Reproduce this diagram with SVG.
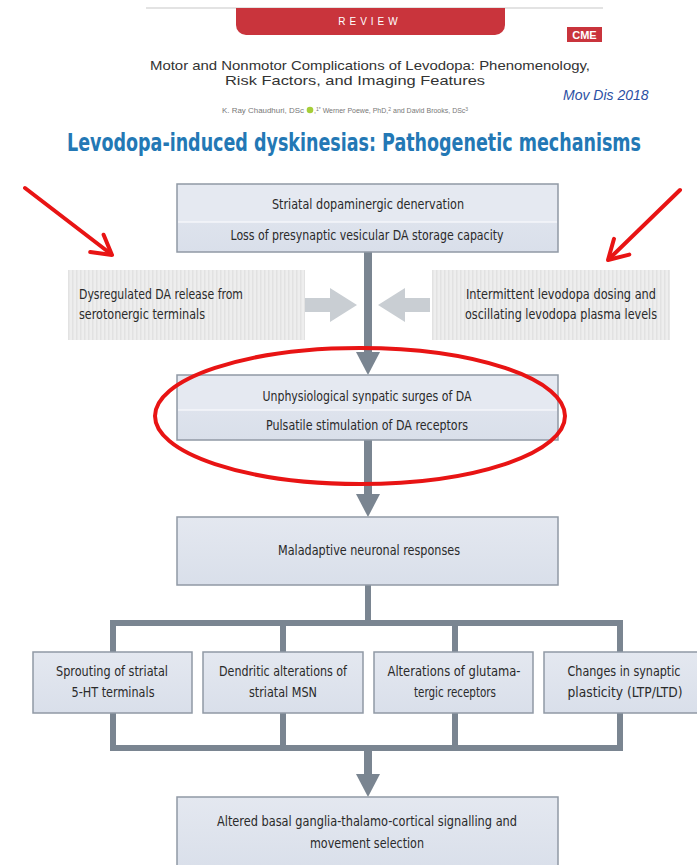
<svg xmlns="http://www.w3.org/2000/svg" width="697" height="865" viewBox="0 0 697 865">
<defs>
<style>
.bx{fill:url(#bg);stroke:#9099a5;stroke-width:1.5}
.t{font-family:"DejaVu Sans Condensed","Liberation Sans Narrow","Liberation Sans",sans-serif;font-size:14px;fill:#2a2a2a}
.c{text-anchor:middle}
.ln{fill:none;stroke:#7a8591;stroke-width:6}
.ar{fill:#7a8591}
.lt{fill:#c9ced3}
.red{fill:none;stroke:#e81414;stroke-width:4;stroke-linecap:round;stroke-linejoin:round}
.au{font-family:"Liberation Sans",sans-serif;font-size:7px;fill:#777777}
</style>
<linearGradient id="bg" x1="0" y1="0" x2="0" y2="1">
<stop offset="0" stop-color="#e4e8f0"/>
<stop offset="1" stop-color="#d9dfea"/>
</linearGradient>
<pattern id="stripe" width="4" height="4" patternUnits="userSpaceOnUse">
<rect width="4" height="4" fill="#eeeeee"/>
<rect width="1.5" height="4" fill="#e2e2e2"/>
</pattern>
</defs>
<rect width="697" height="865" fill="#ffffff"/>

<g id="header">
<line x1="146" y1="8" x2="603" y2="8" stroke="#c8c8c8" stroke-width="1.2"/>
<path d="M236,8 H505 V25 a10,10 0 0 1 -10,10 H246 a10,10 0 0 1 -10,-10 Z" fill="#c9343c"/>
<text x="370" y="25" text-anchor="middle" font-family="Liberation Sans, sans-serif" font-size="10" fill="#ffffff" letter-spacing="4">REVIEW</text>
<rect x="567" y="27" width="35" height="15" fill="#c9343c"/>
<text x="584.5" y="39" text-anchor="middle" font-family="Liberation Sans, sans-serif" font-size="11" font-weight="bold" fill="#ffffff">CME</text>
<text x="370" y="70" text-anchor="middle" font-family="Liberation Sans, sans-serif" font-size="13" fill="#333333" textLength="440" lengthAdjust="spacingAndGlyphs">Motor and Nonmotor Complications of Levodopa: Phenomenology,</text>
<text x="355" y="85" text-anchor="middle" font-family="Liberation Sans, sans-serif" font-size="13" fill="#333333" textLength="260" lengthAdjust="spacingAndGlyphs">Risk Factors, and Imaging Features</text>
<text x="563" y="100" font-family="Liberation Sans, sans-serif" font-size="14" font-style="italic" fill="#2b4fa3">Mov Dis 2018</text>
<text x="222" y="113" class="au" textLength="82" lengthAdjust="spacingAndGlyphs">K. Ray Chaudhuri, DSc</text>
<circle cx="310" cy="110" r="3.3" fill="#a6ce39"/>
<text x="314" y="113" class="au">,<tspan font-size="5" dy="-2.5">1*</tspan><tspan dy="2.5"> Werner Poewe, PhD,</tspan><tspan font-size="5" dy="-2.5">2</tspan><tspan dy="2.5"> and David Brooks, DSc</tspan><tspan font-size="5" dy="-2.5">3</tspan></text>
</g>

<g id="title">
<text transform="translate(354,151) scale(1,1.25)" x="0" y="0" text-anchor="middle" font-family="DejaVu Sans Condensed, Liberation Sans Narrow, Liberation Sans, sans-serif" font-size="20" font-weight="bold" fill="#2378b5" textLength="574" lengthAdjust="spacingAndGlyphs">Levodopa-induced dyskinesias: Pathogenetic mechanisms</text>
</g>

<g id="connectors">
<rect x="364" y="252" width="8" height="102" class="ar"/>
<polygon points="356,352 380,352 368,375" class="ar"/>
<rect x="364" y="440" width="8" height="56" class="ar"/>
<polygon points="356,494 380,494 368,517" class="ar"/>
<line x1="368" y1="585" x2="368" y2="623" class="ln"/>
<path d="M113,653 V623 H620 V653" class="ln"/>
<line x1="283" y1="623" x2="283" y2="653" class="ln"/>
<line x1="455" y1="623" x2="455" y2="653" class="ln"/>
<path d="M113,713 V748 H620 V713" class="ln"/>
<line x1="283" y1="713" x2="283" y2="748" class="ln"/>
<line x1="455" y1="713" x2="455" y2="748" class="ln"/>
<rect x="364" y="748" width="8" height="28" class="ar"/>
<polygon points="356,774 380,774 368,797" class="ar"/>
<polygon points="305,298 330,298 330,288 357,305 330,322 330,312 305,312" class="lt"/>
<polygon points="430,298 405,298 405,288 378,305 405,322 405,312 430,312" class="lt"/>
</g>

<g id="box1">
<rect x="177" y="184" width="381" height="68" class="bx"/>
<rect x="178" y="185" width="379" height="37" fill="#e5e9f1"/>
<line x1="178" y1="222" x2="557" y2="222" stroke="#f4f6fa" stroke-width="1.5"/>
<text x="368" y="209" class="t c" textLength="192" lengthAdjust="spacingAndGlyphs">Striatal dopaminergic denervation</text>
<text x="367" y="240" class="t c" textLength="273" lengthAdjust="spacingAndGlyphs">Loss of presynaptic vesicular DA storage capacity</text>
</g>

<g id="left">
<rect x="68" y="270" width="237" height="70" fill="url(#stripe)"/>
<text x="79" y="299" class="t" textLength="164" lengthAdjust="spacingAndGlyphs">Dysregulated DA release from</text>
<text x="79" y="319" class="t" textLength="126" lengthAdjust="spacingAndGlyphs">serotonergic terminals</text>
</g>

<g id="right">
<rect x="432" y="270" width="238" height="70" fill="url(#stripe)"/>
<text x="466" y="299" class="t" textLength="190" lengthAdjust="spacingAndGlyphs">Intermittent levodopa dosing and</text>
<text x="465" y="319" class="t" textLength="192" lengthAdjust="spacingAndGlyphs">oscillating levodopa plasma levels</text>
</g>

<g id="box2">
<rect x="177" y="375" width="381" height="65" class="bx"/>
<rect x="178" y="376" width="379" height="34" fill="#e5e9f1"/>
<line x1="178" y1="410" x2="557" y2="410" stroke="#f4f6fa" stroke-width="1.5"/>
<text x="367" y="401" class="t c" textLength="209" lengthAdjust="spacingAndGlyphs">Unphysiological synpatic surges of DA</text>
<text x="367" y="430" class="t c" textLength="202" lengthAdjust="spacingAndGlyphs">Pulsatile stimulation of DA receptors</text>
</g>

<g id="box3">
<rect x="177" y="517" width="381" height="68" class="bx"/>
<text x="369" y="555" class="t c" textLength="182" lengthAdjust="spacingAndGlyphs">Maladaptive neuronal responses</text>
</g>

<g id="boxA">
<rect x="33" y="652" width="159" height="61" class="bx"/>
<text x="112" y="676" class="t c" textLength="112" lengthAdjust="spacingAndGlyphs">Sprouting of striatal</text>
<text x="113" y="697" class="t c" textLength="83" lengthAdjust="spacingAndGlyphs">5-HT terminals</text>
</g>
<g id="boxB">
<rect x="203" y="652" width="160" height="61" class="bx"/>
<text x="283" y="676" class="t c" textLength="128" lengthAdjust="spacingAndGlyphs">Dendritic alterations of</text>
<text x="283" y="697" class="t c" textLength="68" lengthAdjust="spacingAndGlyphs">striatal MSN</text>
</g>
<g id="boxC">
<rect x="374" y="652" width="159" height="61" class="bx"/>
<text x="454" y="676" class="t c" textLength="133" lengthAdjust="spacingAndGlyphs">Alterations of glutama-</text>
<text x="455" y="697" class="t c" textLength="82" lengthAdjust="spacingAndGlyphs">tergic receptors</text>
</g>
<g id="boxD">
<rect x="544" y="652" width="160" height="61" class="bx"/>
<text x="624" y="676" class="t c" textLength="113" lengthAdjust="spacingAndGlyphs">Changes in synaptic</text>
<text x="625" y="697" class="t c" textLength="115" lengthAdjust="spacingAndGlyphs">plasticity (LTP/LTD)</text>
</g>

<g id="box4">
<rect x="177" y="797" width="381" height="75" class="bx"/>
<text x="367" y="826" class="t c" textLength="300" lengthAdjust="spacingAndGlyphs">Altered basal ganglia-thalamo-cortical signalling and</text>
<text x="367" y="848" class="t c" textLength="114" lengthAdjust="spacingAndGlyphs">movement selection</text>
</g>

<g id="annotations">
<ellipse cx="360" cy="416" rx="205" ry="68" class="red"/>
<line x1="25" y1="188" x2="111" y2="254" class="red"/>
<polyline points="103.6,234.7 112,255 90.2,252.1" class="red"/>
<line x1="680" y1="190" x2="609" y2="259" class="red"/>
<polyline points="629.3,254.6 608,260 614,238.8" class="red"/>
</g>
</svg>
